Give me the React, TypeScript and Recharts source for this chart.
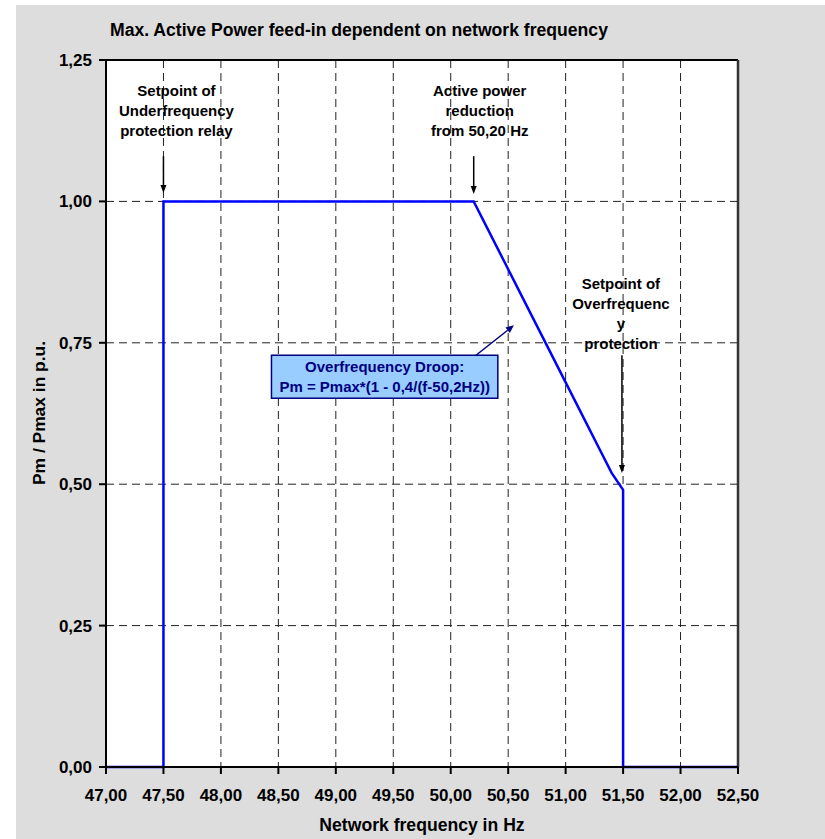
import {
  LineChart,
  Line,
  XAxis,
  YAxis,
  CartesianGrid,
  ReferenceLine,
  ReferenceArea,
} from 'recharts'

// curve values (Hz, p.u.)
const freq = [47.0, 47.5, 47.5, 50.2, 50.5, 51.0, 51.3, 51.4, 51.5, 51.5, 52.5]
const power = [0, 0, 1.0, 1.0, 0.88, 0.68, 0.56, 0.52, 0.49, 0, 0]

const xTicks = [47, 47.5, 48, 48.5, 49, 49.5, 50, 50.5, 51, 51.5, 52, 52.5]
const yTicks = [0, 0.25, 0.5, 0.75, 1, 1.25]

const notes = [
  { x: 47.5, yFrom: 1.08, yTo: 1.015, dx: 13, gap: 20, lines: ['Setpoint of', 'Underfrequency', 'protection relay'] },
  { x: 50.2, yFrom: 1.08, yTo: 1.013, dx: 6, gap: 20, lines: ['Active power', 'reduction', 'from 50,20 Hz'] },
  { x: 51.49, yFrom: 0.728, yTo: 0.52, dx: -1, gap: 6, lines: ['Setpoint of', 'Overfrequenc', 'y', 'protection'] },
]

const droopBox = { x1: 48.44, x2: 50.41, y1: 0.652, y2: 0.728 }
const droopArrow = [{ x: 50.22, y: 0.728 }, { x: 50.55, y: 0.781 }]
const droopText = ['Overfrequency Droop:', 'Pm = Pmax*(1 - 0,4/(f-50,2Hz))']

const data = freq.map((f, i) => ({ f, p: power[i] }))

const FONT = '"Liberation Sans", Arial, sans-serif'
const comma = (v: number) => v.toFixed(2).replace('.', ',')

function arrowHead(x1: number, y1: number, x2: number, y2: number, len: number, half: number) {
  const a = Math.atan2(y2 - y1, x2 - x1)
  const c = Math.cos(a)
  const s = Math.sin(a)
  const bx = x2 - len * c
  const by = y2 - len * s
  return {
    bx,
    by,
    pts: `${x2},${y2} ${bx - half * s},${by + half * c} ${bx + half * s},${by - half * c}`,
  }
}

const noteShape = (note: (typeof notes)[number]) => (p: any) => {
  const { x1, y1, x2, y2 } = p
  const h = arrowHead(x1, y1, x2, y2, 8, 3)
  const n = note.lines.length
  return (
    <g>
      <line x1={x1} y1={y1} x2={h.bx} y2={h.by} stroke="#000" strokeWidth={1.5} />
      <polygon points={h.pts} fill="#000" />
      {note.lines.map((t, i) => (
        <text
          key={i}
          x={x1 + note.dx}
          y={y1 - note.gap - (n - 1 - i) * 20}
          textAnchor="middle"
          fontFamily={FONT}
          fontWeight="bold"
          fontSize={15}
          fill="#000"
        >
          {t}
        </text>
      ))}
    </g>
  )
}

const navyArrow = (p: any) => {
  const { x1, y1, x2, y2 } = p
  const h = arrowHead(x1, y1, x2, y2, 8, 3.5)
  return (
    <g>
      <line x1={x1} y1={y1} x2={h.bx} y2={h.by} stroke="#000080" strokeWidth={1.5} />
      <polygon points={h.pts} fill="#000080" />
    </g>
  )
}

const boxShape = (p: any) => {
  const { x, y, width, height } = p
  return (
    <g>
      <rect x={x} y={y} width={width} height={height} fill="#99CCFF" stroke="#000080" strokeWidth={1.5} />
      {droopText.map((t, i) => (
        <text
          key={i}
          x={x + width / 2}
          y={y + 17 + i * 20}
          textAnchor="middle"
          fontFamily={FONT}
          fontWeight="bold"
          fontSize={15}
          fill="#000080"
        >
          {t}
        </text>
      ))}
    </g>
  )
}

const tickStyle = { fontFamily: FONT, fontWeight: 'bold', fontSize: 17, fill: '#000' }

export default function App() {
  return (
    <div style={{ position: 'absolute', left: 0, top: 0, width: 825, height: 839, background: '#fff' }}>
      <div style={{ position: 'absolute', left: 16, top: 5, width: 809, height: 834, background: '#DDDDDD' }} />
      <div style={{ position: 'absolute', left: 0, top: 0 }}>
        <LineChart width={825} height={839} data={data} margin={{ top: 60, right: 87, bottom: 32, left: 16 }}>
          <CartesianGrid stroke="#222" strokeDasharray="8 5" fill="#fff" fillOpacity={1} />
          <XAxis
            dataKey="f"
            type="number"
            domain={[47, 52.5]}
            ticks={xTicks}
            tickFormatter={comma}
            tick={tickStyle}
            tickSize={7}
            tickMargin={15}
            height={40}
            axisLine={{ stroke: '#000', strokeWidth: 2 }}
            tickLine={{ stroke: '#000', strokeWidth: 2 }}
            interval={0}
          />
          <YAxis
            type="number"
            domain={[0, 1.25]}
            ticks={yTicks}
            tickFormatter={comma}
            tick={tickStyle}
            tickSize={7}
            tickMargin={7}
            width={90}
            axisLine={{ stroke: '#000', strokeWidth: 2 }}
            tickLine={{ stroke: '#000', strokeWidth: 2 }}
            interval={0}
          />
          <ReferenceLine y={1.25} stroke="#000" strokeWidth={2} />
          <ReferenceLine x={52.5} stroke="#333" strokeWidth={2.5} />
          <ReferenceArea {...droopBox} shape={boxShape} ifOverflow="visible" />
          <Line
            dataKey="p"
            type="linear"
            stroke="#0000FF"
            strokeWidth={2.5}
            dot={false}
            activeDot={false}
            isAnimationActive={false}
          />
          {notes.map((n, i) => (
            <ReferenceLine
              key={i}
              segment={[
                { x: n.x, y: n.yFrom },
                { x: n.x, y: n.yTo },
              ]}
              shape={noteShape(n)}
              ifOverflow="visible"
            />
          ))}
          <ReferenceLine segment={droopArrow} shape={navyArrow} ifOverflow="visible" />
          <text x={110} y={36} fontFamily={FONT} fontWeight="bold" fontSize={17.6} fill="#000">
            Max. Active Power feed-in dependent on network frequency
          </text>
          <text x={422} y={831} textAnchor="middle" fontFamily={FONT} fontWeight="bold" fontSize={17.6} fill="#000">
            Network frequency in Hz
          </text>
          <text
            x={45}
            y={413}
            textAnchor="middle"
            transform="rotate(-90, 45, 413)"
            fontFamily={FONT}
            fontWeight="bold"
            fontSize={17.4}
            fill="#000"
          >
            Pm / Pmax in p.u.
          </text>
        </LineChart>
      </div>
    </div>
  )
}
